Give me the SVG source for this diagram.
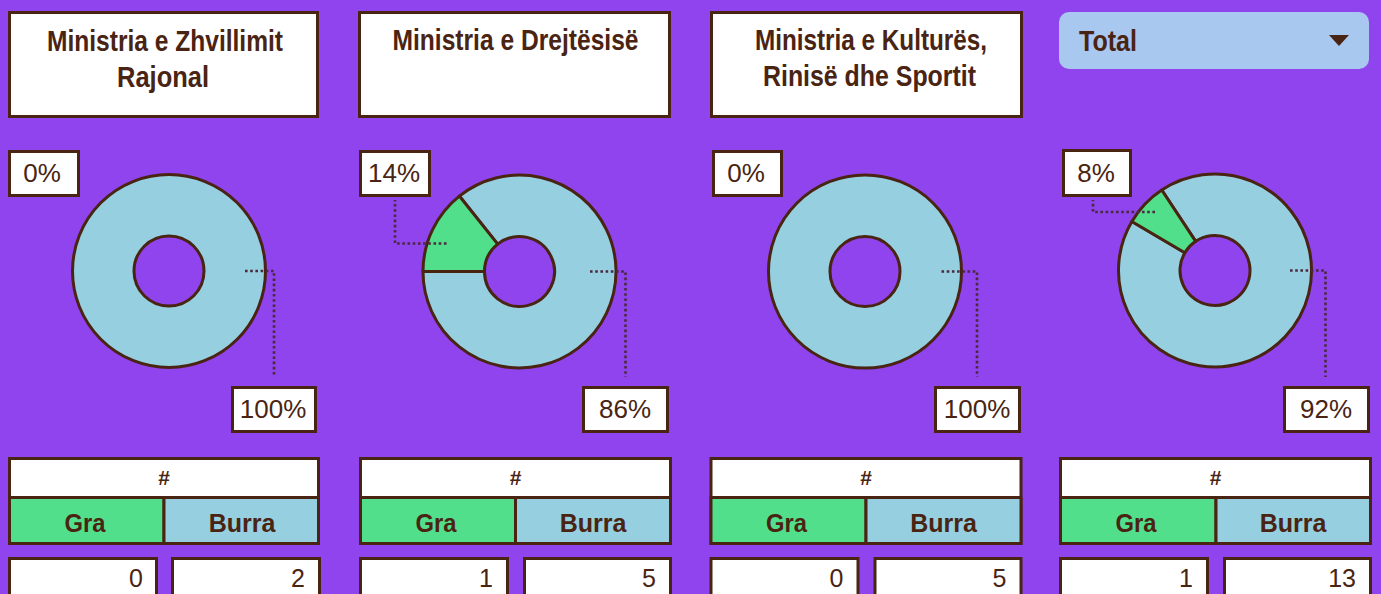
<svg xmlns="http://www.w3.org/2000/svg" width="1381" height="594" viewBox="0 0 1381 594">
<style>
.bg{fill:#8f44ed}
.box{fill:#ffffff;stroke:#4a2412;stroke-width:3}
.ttl{font-family:"Liberation Sans",Arial,sans-serif;font-weight:bold;font-size:30px;fill:#4a2412;text-anchor:middle}
.lbl{font-family:"Liberation Sans",Arial,sans-serif;font-size:26px;fill:#4a2412;text-anchor:middle}
.val{font-family:"Liberation Sans",Arial,sans-serif;font-size:25px;fill:#4a2412;text-anchor:end}
.hd{font-family:"Liberation Sans",Arial,sans-serif;font-weight:bold;font-size:25px;fill:#4a2412;text-anchor:middle}
.hash{font-family:"Liberation Sans",Arial,sans-serif;font-weight:bold;font-size:21px;fill:#4a2412;text-anchor:middle}
.blue{fill:#95cfe0;stroke:#4a2412;stroke-width:3;stroke-linejoin:round}
.green{fill:#52df8b;stroke:#4a2412;stroke-width:3;stroke-linejoin:round}
.lead{fill:none;stroke:#4a2a3c;stroke-width:2.6;stroke-dasharray:2.6 2.6}
.ln{stroke:#4a2412;stroke-width:3}
</style>
<rect class="bg" x="0" y="0" width="1381" height="594"/>

<!-- Panel 1 -->
<g id="panel1">
  <rect class="box" x="9.5" y="12.5" width="308" height="104"/>
  <text class="ttl" x="165" y="51" textLength="236" lengthAdjust="spacingAndGlyphs">Ministria e Zhvillimit</text>
  <text class="ttl" x="163" y="87" textLength="92" lengthAdjust="spacingAndGlyphs">Rajonal</text>
  <path class="blue" fill-rule="evenodd" d="M72.5,271 a96.5,96.5 0 1 0 193,0 a96.5,96.5 0 1 0 -193,0 Z M134,271 a35,35 0 1 0 70,0 a35,35 0 1 0 -70,0 Z"/>
  <rect class="box" x="9.5" y="151.5" width="69" height="44"/>
  <text class="lbl" x="42" y="182">0%</text>
  <rect class="box" x="232.5" y="387.5" width="83" height="44"/>
  <text class="lbl" x="273" y="418">100%</text>
</g>
<g id="table1">
  <rect class="box" x="9.5" y="458.5" width="309" height="85"/>
  <rect class="green" x="9.5" y="497.5" width="154.5" height="46"/>
  <rect class="blue" x="164" y="497.5" width="154.5" height="46"/>
  <text class="hash" x="164" y="485">#</text>
  <text class="hd" x="85" y="532" textLength="41" lengthAdjust="spacingAndGlyphs">Gra</text>
  <text class="hd" x="242" y="532">Burra</text>
  <rect class="box" x="9.5" y="558.5" width="147" height="50"/>
  <rect class="box" x="172.5" y="558.5" width="147" height="50"/>
  <text class="val" x="143" y="587">0</text>
  <text class="val" x="305" y="587">2</text>
</g>

<!-- Panel 2 -->
<g id="panel2">
  <rect class="box" x="359.5" y="12.5" width="310" height="104"/>
  <text class="ttl" x="515.5" y="50" textLength="246" lengthAdjust="spacingAndGlyphs">Ministria e Drejtësisë</text>
  <path class="blue" d="M459.33,196.06 A96.5,96.5 0 1 1 423,271.5 L484.5,271.5 A35,35 0 1 0 497.68,244.14 Z"/>
  <path class="green" d="M423,271.5 A96.5,96.5 0 0 1 459.33,196.06 L497.68,244.14 A35,35 0 0 0 484.5,271.5 Z"/>
  <rect class="box" x="360.5" y="151.5" width="69" height="44"/>
  <text class="lbl" x="394" y="182">14%</text>
  <rect class="box" x="583.5" y="387.5" width="84" height="44"/>
  <text class="lbl" x="625" y="418">86%</text>
</g>
<g id="table2">
  <rect class="box" x="360.5" y="458.5" width="310" height="85"/>
  <rect class="green" x="360.5" y="497.5" width="155" height="46"/>
  <rect class="blue" x="515.5" y="497.5" width="155" height="46"/>
  <text class="hash" x="515.5" y="485">#</text>
  <text class="hd" x="436" y="532" textLength="41" lengthAdjust="spacingAndGlyphs">Gra</text>
  <text class="hd" x="593" y="532">Burra</text>
  <rect class="box" x="360.5" y="558.5" width="147" height="50"/>
  <rect class="box" x="524.5" y="558.5" width="146" height="50"/>
  <text class="val" x="493" y="587">1</text>
  <text class="val" x="656" y="587">5</text>
</g>

<!-- Panel 3 -->
<g id="panel3">
  <rect class="box" x="711.5" y="12.5" width="310" height="104"/>
  <text class="ttl" x="871" y="50" textLength="232" lengthAdjust="spacingAndGlyphs">Ministria e Kulturës,</text>
  <text class="ttl" x="869.5" y="86" textLength="213" lengthAdjust="spacingAndGlyphs">Rinisë dhe Sportit</text>
  <path class="blue" fill-rule="evenodd" d="M768.5,271.5 a96.5,96.5 0 1 0 193,0 a96.5,96.5 0 1 0 -193,0 Z M830,271.5 a35,35 0 1 0 70,0 a35,35 0 1 0 -70,0 Z"/>
  <rect class="box" x="713.5" y="151.5" width="68" height="44"/>
  <text class="lbl" x="746" y="182">0%</text>
  <rect class="box" x="935.5" y="387.5" width="84" height="44"/>
  <text class="lbl" x="977" y="418">100%</text>
</g>
<g id="table3">
  <rect class="box" x="711" y="458.5" width="310" height="85"/>
  <rect class="green" x="711" y="497.5" width="155" height="46"/>
  <rect class="blue" x="866" y="497.5" width="155" height="46"/>
  <text class="hash" x="866" y="485">#</text>
  <text class="hd" x="786.5" y="532" textLength="41" lengthAdjust="spacingAndGlyphs">Gra</text>
  <text class="hd" x="943.5" y="532">Burra</text>
  <rect class="box" x="711" y="558.5" width="147" height="50"/>
  <rect class="box" x="875" y="558.5" width="146" height="50"/>
  <text class="val" x="843.5" y="587">0</text>
  <text class="val" x="1006.5" y="587">5</text>
</g>

<!-- Panel 4 -->
<g id="dropdown">
  <rect x="1059" y="12" width="310" height="57" rx="10" ry="10" fill="#a9c8f0"/>
  <text x="1079" y="51" font-family="'Liberation Sans',Arial,sans-serif" font-weight="bold" font-size="29" fill="#4a2412" textLength="58" lengthAdjust="spacingAndGlyphs">Total</text>
  <path d="M1329,35 L1349,35 L1339,46 Z" fill="#4a2412"/>
</g>
<g id="panel4">
  <path class="blue" d="M1161.74,190.03 A96.5,96.5 0 1 1 1131.86,221.53 L1184.84,252.74 A35,35 0 1 0 1195.68,241.31 Z"/>
  <path class="green" d="M1131.86,221.53 A96.5,96.5 0 0 1 1161.74,190.03 L1195.68,241.31 A35,35 0 0 0 1184.84,252.74 Z"/>
  <rect class="box" x="1063.5" y="150.5" width="67" height="45"/>
  <text class="lbl" x="1096" y="182">8%</text>
  <rect class="box" x="1284.5" y="387.5" width="84" height="44"/>
  <text class="lbl" x="1326" y="418">92%</text>
</g>
<g id="table4">
  <rect class="box" x="1060.5" y="458.5" width="310" height="85"/>
  <rect class="green" x="1060.5" y="497.5" width="155.5" height="46"/>
  <rect class="blue" x="1216" y="497.5" width="154.5" height="46"/>
  <text class="hash" x="1215.5" y="485">#</text>
  <text class="hd" x="1136" y="532" textLength="41" lengthAdjust="spacingAndGlyphs">Gra</text>
  <text class="hd" x="1293" y="532">Burra</text>
  <rect class="box" x="1060.5" y="558.5" width="147" height="50"/>
  <rect class="box" x="1224.5" y="558.5" width="146" height="50"/>
  <text class="val" x="1193" y="587">1</text>
  <text class="val" x="1356" y="587">13</text>
</g>

<g id="connectors">
  <path class="lead" d="M245,271 H274 V377"/>
  <path class="lead" d="M590,271.5 H625.5 V377"/>
  <path class="lead" d="M446.5,243.5 H395 V200"/>
  <path class="lead" d="M941.5,271.5 H977 V377"/>
  <path class="lead" d="M1290,270.5 H1325.5 V377"/>
  <path class="lead" d="M1155,212 H1093 V200"/>
</g>
</svg>
